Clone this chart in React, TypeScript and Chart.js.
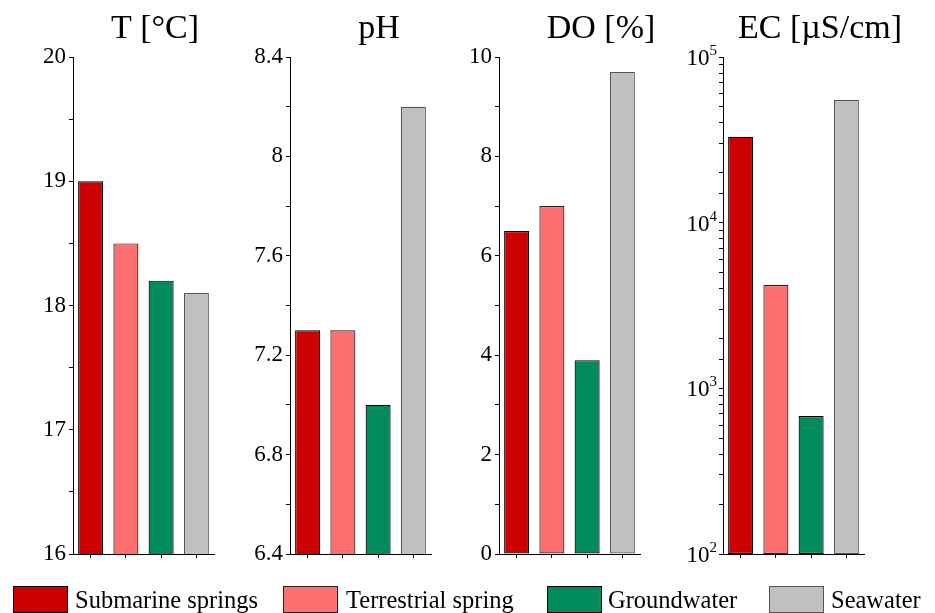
import React, { useEffect, useRef } from "react";
import { Chart, registerables } from "chart.js";

Chart.register(...registerables);
Chart.defaults.font.family = "Liberation Serif";

const categories = ["Submarine springs", "Terrestrial spring", "Groundwater", "Seawater"];
const barColors = ["#CC0000", "#FF6F6F", "#008A5E", "#C0C0C0"];
const borderColors = ["#000000", "#222222", "#000000", "#555555"];

const tempValues = [19.0, 18.5, 18.2, 18.1];
const phValues = [7.3, 7.3, 7.0, 8.2];
const doValues = [6.5, 7.0, 3.9, 9.7];
const ecValues = [33000, 4200, 680, 55000];

const titles = ["T [°C]", "pH", "DO [%]", "EC [µS/cm]"];
const ecPowers = [2, 3, 4, 5];

const SERIF = "Liberation Serif";
const W = 935;
const H = 613;
const AXIS_W = 60;

type Panel = {
  title: string;
  values: number[];
  type: "linear" | "logarithmic";
  min: number;
  max: number;
  step?: number;
  label: (v: number) => string;
  powers?: number[];
  axisLeft: number;
  axisRight: number;
  titleX: number;
};

const panels: Panel[] = [
  {
    title: titles[0], values: tempValues, type: "linear", min: 16, max: 20, step: 0.5,
    label: (v) => (Math.abs(v - Math.round(v)) < 1e-6 ? String(Math.round(v)) : ""),
    axisLeft: 73, axisRight: 214, titleX: 155,
  },
  {
    title: titles[1], values: phValues, type: "linear", min: 6.4, max: 8.4, step: 0.2,
    label: (v) => {
      const k = (v - 6.4) / 0.4;
      return Math.abs(k - Math.round(k)) < 1e-6 ? String(Math.round(v * 10) / 10) : "";
    },
    axisLeft: 290, axisRight: 431, titleX: 379,
  },
  {
    title: titles[2], values: doValues, type: "linear", min: 0, max: 10, step: 1,
    label: (v) => (Math.round(v) % 2 === 0 ? String(Math.round(v)) : ""),
    axisLeft: 499, axisRight: 640, titleX: 601,
  },
  {
    title: titles[3], values: ecValues, type: "logarithmic", min: 100, max: 100000,
    label: () => "",
    powers: ecPowers,
    axisLeft: 723, axisRight: 864, titleX: 820,
  },
];

function PanelChart({ p }: { p: Panel }) {
  const ref = useRef<HTMLCanvasElement | null>(null);
  useEffect(() => {
    if (!ref.current) return;
    const titlePlugin = {
      id: "panelTitle",
      afterDraw(chart: any) {
        const ctx = chart.ctx;
        ctx.save();
        ctx.font = `34px "${SERIF}"`;
        ctx.fillStyle = "#000";
        ctx.textAlign = "center";
        ctx.textBaseline = "alphabetic";
        ctx.fillText(p.title, p.titleX, 38);
        if (p.powers) {
          const scale = chart.scales.y;
          for (const e of p.powers) {
            const y = scale.getPixelForValue(Math.pow(10, e));
            const exp = String(e);
            ctx.font = `15px "${SERIF}"`;
            const ew = ctx.measureText(exp).width;
            const right = scale.right - 6;
            ctx.textAlign = "right";
            ctx.fillText(exp, right, y - 2);
            ctx.font = `23px "${SERIF}"`;
            ctx.fillText("10", right - ew, y + 8);
          }
        }
        ctx.restore();
      },
    };
    const yTicks: any = {
      color: "#000",
      font: { family: SERIF, size: 23 },
      padding: 3,
      autoSkip: false,
      callback: (v: any) => p.label(Number(v)),
    };
    if (p.step) yTicks.stepSize = p.step;
    const chart = new Chart(ref.current, {
      type: "bar",
      data: {
        labels: categories,
        datasets: [
          {
            data: p.values,
            backgroundColor: barColors,
            borderColor: borderColors,
            borderWidth: 1.2,
            borderSkipped: false,
            barPercentage: 0.71,
            categoryPercentage: 1,
          },
        ],
      },
      options: {
        animation: false,
        responsive: false,
        devicePixelRatio: 1,
        font: { family: SERIF },
        layout: {
          padding: {
            left: p.axisLeft - AXIS_W,
            right: W - p.axisRight,
            top: 57,
            bottom: H - 554 - 4,
          },
        },
        plugins: { legend: { display: false }, title: { display: false }, tooltip: { enabled: false } },
        scales: {
          x: {
            type: "category",
            offset: true,
            ticks: { display: false },
            grid: { drawOnChartArea: false, offset: false, tickLength: 4, color: "#000", lineWidth: 1 },
            border: { display: true, color: "#000", width: 1 },
          },
          y: {
            type: p.type as any,
            min: p.min,
            max: p.max,
            ticks: yTicks,
            grid: { drawOnChartArea: false, tickLength: 4, color: "#000", lineWidth: 1 },
            border: { display: true, color: "#000", width: 1 },
            afterFit: (scale: any) => {
              scale.width = AXIS_W;
            },
          } as any,
        },
      } as any,
      plugins: [titlePlugin],
    });
    return () => chart.destroy();
  }, [p]);
  return (
    <canvas
      ref={ref}
      width={W}
      height={H}
      style={{ position: "absolute", left: 0, top: 0, width: W, height: H }}
    />
  );
}

const legendBoxLefts = [13, 283, 547, 769];
const legendTextLefts = [75, 346, 608, 831];

export default function App() {
  return (
    <div style={{ position: "absolute", left: 0, top: 0, width: W, height: H, background: "#fff", overflow: "hidden" }}>
      {panels.map((p, i) => (
        <PanelChart key={i} p={p} />
      ))}
      {categories.map((c, i) => (
        <React.Fragment key={c}>
          <div
            style={{
              position: "absolute",
              left: legendBoxLefts[i],
              top: 586,
              width: 55,
              height: 27,
              boxSizing: "border-box",
              background: barColors[i],
              border: `1px solid ${borderColors[i]}`,
            }}
          />
          <div
            style={{
              position: "absolute",
              left: legendTextLefts[i],
              top: 588,
              fontFamily: `"${SERIF}", serif`,
              fontSize: 24.5,
              lineHeight: "24px",
              color: "#000",
              whiteSpace: "nowrap",
            }}
          >
            {c}
          </div>
        </React.Fragment>
      ))}
    </div>
  );
}
